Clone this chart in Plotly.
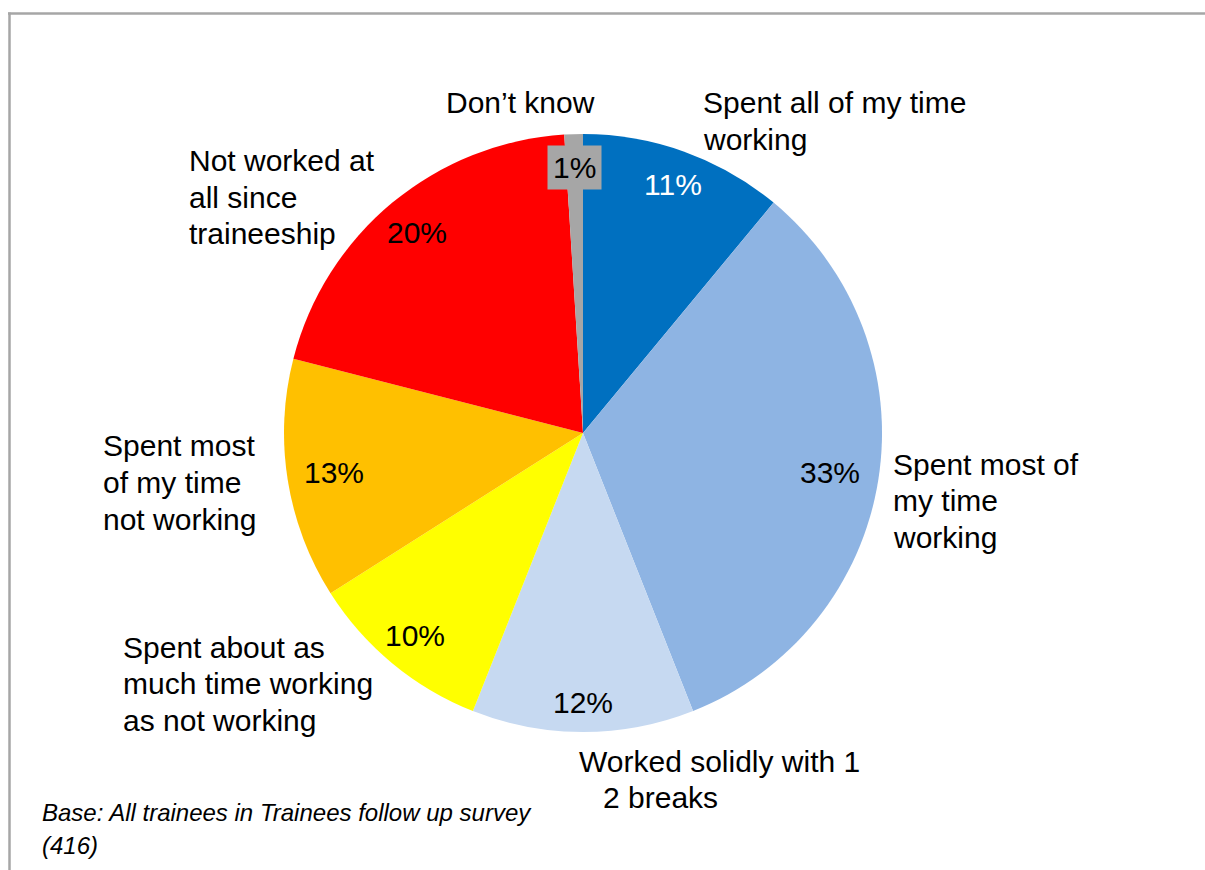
import math
import plotly.graph_objects as go

# ---------------- data ----------------
categories = [
    "Spent all of my time working",
    "Spent most of my time working",
    "Worked solidly with 1 2 breaks",
    "Spent about as much time working as not working",
    "Spent most of my time not working",
    "Not worked at all since traineeship",
    "Don\u2019t know",
]
values = [11, 33, 12, 10, 13, 20, 1]
# category text as it is wrapped on the chart
label_lines = [
    ["Spent all of my time", "working"],
    ["Spent most of", "my time", "working"],
    ["Worked solidly with 1", "2 breaks"],
    ["Spent about as", "much time working", "as not working"],
    ["Spent most", "of my time", "not working"],
    ["Not worked at", "all since", "traineeship"],
    ["Don\u2019t know"],
]
footnote_lines = ["Base: All trainees in Trainees follow up survey", "(416)"]

# ---------------- style ----------------
W, H = 1205, 870
CX, CY, R = 583, 433, 299          # pie centre / radius in pixels
FONT = "Liberation Sans, Arial, sans-serif"
FS = 30
LINE = 36.5
colors = ["#0070C0", "#8EB4E3", "#C6D9F1", "#FFFF00", "#FFC000", "#FF0000", "#A6A6A6"]
pct_colors = ["white", "black", "black", "black", "black", "black", "black"]
pct_radius = [0.885, 0.837, 0.903, 0.879, 0.844, 0.869, 0.887]
pct_bg = [None, None, None, None, None, None, "#A6A6A6"]
# first-line anchor (px) for each category label, anchor, per-line x indents
label_place = [
    (701, 103, "left", [0, 0]),
    (891, 464, "left", [0, 0, 0]),
    (577, 761, "left", [0, 24]),
    (121, 647, "left", [0, 0, 0]),
    (101, 446, "left", [0, 0, 0]),
    (187, 161, "left", [0, 0, 0]),
    (520, 103, "center", [0]),
]


def px(x):
    return x / W


def py(y):
    return 1 - y / H


fig = go.Figure(
    go.Pie(
        labels=categories,
        values=values,
        sort=False,
        direction="clockwise",
        rotation=0,
        marker=dict(colors=colors, line=dict(width=0)),
        textinfo="none",
        hovertemplate="%{label}: %{percent}<extra></extra>",
        domain=dict(x=[px(CX - R), px(CX + R)], y=[py(CY + R), py(CY - R)]),
        showlegend=False,
    )
)

annotations = []
total = sum(values)
cum = 0
for v, col, rf, bg in zip(values, pct_colors, pct_radius, pct_bg):
    mid = (cum + v / 2) / total * 2 * math.pi
    cum += v
    x = CX + rf * R * math.sin(mid)
    y = CY - rf * R * math.cos(mid)
    a = dict(
        x=px(x), y=py(y), xref="paper", yref="paper",
        text=f"{round(v / total * 100)}%", showarrow=False,
        xanchor="center", yanchor="middle",
        font=dict(family=FONT, size=FS, color=col),
    )
    if bg:
        a.update(bgcolor=bg, borderpad=5)
    annotations.append(a)

for lines, (x0, y0, anch, indents) in zip(label_lines, label_place):
    for i, (ln, ind) in enumerate(zip(lines, indents)):
        annotations.append(dict(
            x=px(x0 + ind), y=py(y0 + i * LINE), xref="paper", yref="paper",
            text=ln, showarrow=False, xanchor=anch, yanchor="middle",
            font=dict(family=FONT, size=FS, color="black"),
        ))

for i, ln in enumerate(footnote_lines):
    annotations.append(dict(
        x=px(40), y=py(812 + i * 33), xref="paper", yref="paper",
        text=f"<i>{ln}</i>", showarrow=False, xanchor="left", yanchor="middle",
        font=dict(family=FONT, size=24, color="black"),
    ))

shapes = [
    dict(type="line", xref="paper", yref="paper", x0=px(8), x1=1.0,
         y0=py(13.5), y1=py(13.5), line=dict(color="#A6A6A6", width=2.5)),
    dict(type="line", xref="paper", yref="paper", x0=px(9.5), x1=px(9.5),
         y0=py(12.5), y1=0.0, line=dict(color="#A6A6A6", width=2.5)),
]

fig.update_layout(
    width=W, height=H,
    margin=dict(l=0, r=0, t=0, b=0),
    paper_bgcolor="white", plot_bgcolor="white",
    annotations=annotations, shapes=shapes,
    font=dict(family=FONT),
)

fig.write_html("out.html", config={"displayModeBar": False},
               post_script="document.body.style.margin='0';")
